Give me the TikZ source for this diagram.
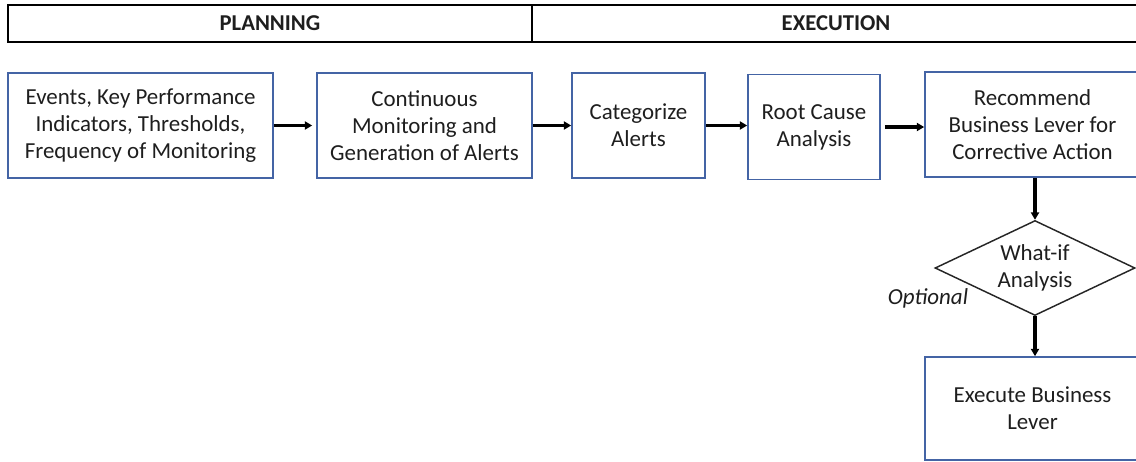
\documentclass[tikz,border=0pt]{standalone}
\usepackage{fontspec}
\setmainfont{Carlito}
\usepackage{xcolor}
\usetikzlibrary{arrows.meta,shapes,positioning,calc}
\definecolor{stageblue}{RGB}{68,100,165}
\definecolor{inkgray}{RGB}{30,30,30}

\begin{document}
\begin{tikzpicture}[>={Triangle[length=5.5pt,width=6pt]}, x=0.75pt, y=-0.75pt,
  font=\fontsize{17.2}{20.25}\selectfont, text=inkgray,
  phase/.style={draw=black, line width=1.3pt, minimum height=27.75pt, font=\fontsize{17}{19}\selectfont\bfseries},
  stage/.style={draw=stageblue, line width=1.2pt, align=center, minimum height=78.75pt, inner sep=0pt},
  decision/.style={draw=black!85, line width=1.1pt, diamond, minimum width=150pt, minimum height=71.25pt, inner sep=0pt},
  flow/.style={->, line width=2.3pt}]
\useasboundingbox (0,0) rectangle (1136,461);
\clip (0,0) rectangle (1136,461);
\node[phase, minimum width=393pt](planning) at (270,23.5){PLANNING};
\node[phase, minimum width=456pt](execution) at (836,23.5){EXECUTION};
\node[stage, minimum width=198.75pt](events) at (140.5,125.5){Events, Key Performance\\Indicators, Thresholds,\\Frequency of Monitoring};
\node[stage, minimum width=161.25pt](monitor) at (424.5,125.5){Continuous\\Monitoring and\\Generation of Alerts};
\node[stage, minimum width=99.75pt](categorize) at (638.5,125.5){Categorize\\Alerts};
\node[stage, minimum width=99pt](rootcause) at (814,127){Root Cause\\Analysis};
\node[stage, minimum width=161.25pt](recommend) at (1032.5,124.5){Recommend\\Business Lever for\\Corrective Action};
\node[decision](whatif) at (1035,268){};
\node[align=center](whatiftext) at (whatif){What-if\\Analysis};
\node[font=\fontsize{17.2}{20.25}\selectfont\itshape](optional) at (928,298){Optional};
\node[stage, minimum width=161.25pt, minimum height=77.25pt](execute) at (1032.5,408.5){Execute Business\\Lever};
\draw[flow, shorten >=3pt](events.east)--(events.east -| monitor.west);
\draw[flow](categorize.east)--(categorize.east -| rootcause.west);
\draw[flow](monitor.east)--(monitor.east -| categorize.west);
\draw[flow, shorten <=3pt](rootcause.east)--(rootcause.east -| recommend.west);
\draw[flow](recommend.south -| whatif.north)--(whatif.north);
\draw[flow](whatif.south)--(whatif.south |- execute.north);
\end{tikzpicture}
\end{document}
